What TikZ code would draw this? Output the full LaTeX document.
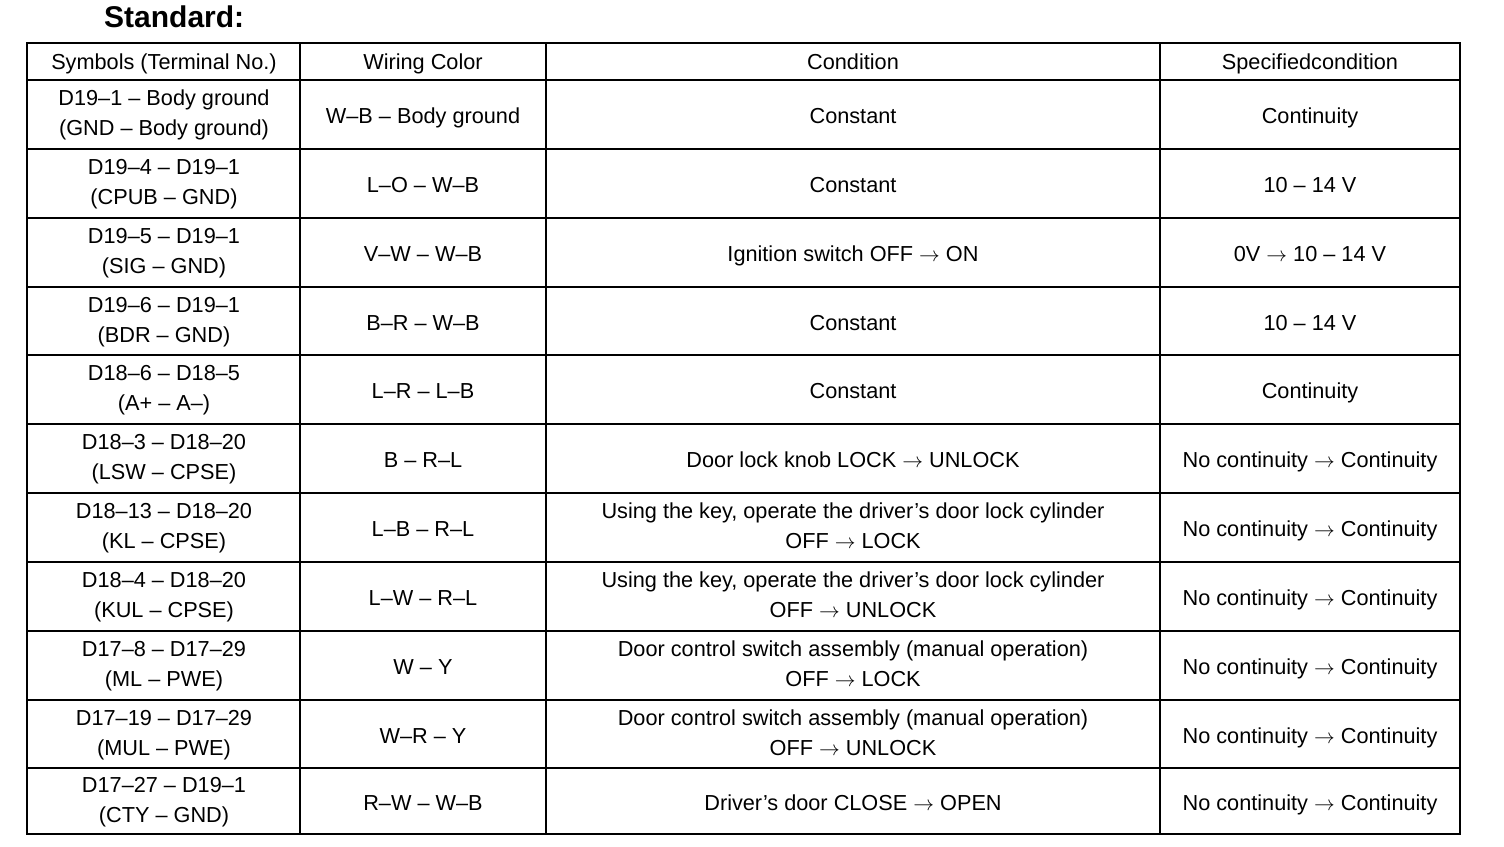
\documentclass[tikz,border=0pt]{standalone}
\usepackage{fontspec}
\setmainfont{Liberation Sans}

% one table row: index, y of centre, four cell texts
\newcommand{\wirerow}[6]{%
  \node[cell] (sym#1) at (164,#2) {#3};
  \node[cell] (wire#1) at (423,#2) {#4};
  \node[cell] (cond#1) at (853,#2) {#5};
  \node[cell] (spec#1) at (1310,#2) {#6};
}

\tikzset{
  cell/.style={align=center, inner sep=0pt, yshift=-3pt, font=\fontsize{21.7}{30}\selectfont,
    execute at begin node=\strut, execute at end node=\strut},
  rule/.style={line width=2.2pt},
}

\begin{document}
\begin{tikzpicture}[x=1pt,y=-1pt]

            % Page frame
            \useasboundingbox (0,0) rectangle (1504,846);

            % Title
            \node[anchor=west, inner sep=0pt, font=\fontsize{30}{34}\selectfont\bfseries] (title) at (104,17) {Standard:};

            % Grid
            \coordinate (topleft) at (27,43);
            \coordinate (botright) at (1460,834);
            \draw[rule] (topleft) rectangle (botright);
            \foreach \y in {80,149,218,287,355,424,493,562,631,700,768}
              \draw[rule] (27,\y) -- (1460,\y);
            \foreach \x in {300,546,1160}
              \draw[rule] (\x,43) -- (\x,834);

            % Header
            \node[cell] (headsym) at (164,60) {Symbols (Terminal No.)};
            \node[cell] (headwire) at (423,60) {Wiring Color};
            \node[cell] (headcond) at (853,60) {Condition};
            \node[cell] (headspec) at (1310,60) {Specifiedcondition};

            % Rows
            \wirerow{1}{114.5}{D19--1 -- Body ground\\(GND -- Body ground)}{W--B -- Body ground}{Constant}{Continuity}
            \wirerow{2}{183.5}{D19--4 -- D19--1\\(CPUB -- GND)}{L--O -- W--B}{Constant}{10 -- 14 V}
            \wirerow{3}{252.5}{D19--5 -- D19--1\\(SIG -- GND)}{V--W -- W--B}{Ignition switch OFF $\rightarrow$ ON}{0V $\rightarrow$ 10 -- 14 V}
            \wirerow{4}{321}{D19--6 -- D19--1\\(BDR -- GND)}{B--R -- W--B}{Constant}{10 -- 14 V}
            \wirerow{5}{389.5}{D18--6 -- D18--5\\(A+ -- A--)}{L--R -- L--B}{Constant}{Continuity}
            \wirerow{6}{458.5}{D18--3 -- D18--20\\(LSW -- CPSE)}{B -- R--L}{Door lock knob LOCK $\rightarrow$ UNLOCK}{No continuity $\rightarrow$ Continuity}
            \wirerow{7}{527.5}{D18--13 -- D18--20\\(KL -- CPSE)}{L--B -- R--L}{Using the key, operate the driver's door lock cylinder\\OFF $\rightarrow$ LOCK}{No continuity $\rightarrow$ Continuity}
            \wirerow{8}{596.5}{D18--4 -- D18--20\\(KUL -- CPSE)}{L--W -- R--L}{Using the key, operate the driver's door lock cylinder\\OFF $\rightarrow$ UNLOCK}{No continuity $\rightarrow$ Continuity}
            \wirerow{9}{665.5}{D17--8 -- D17--29\\(ML -- PWE)}{W -- Y}{Door control switch assembly (manual operation)\\OFF $\rightarrow$ LOCK}{No continuity $\rightarrow$ Continuity}
            \wirerow{10}{734}{D17--19 -- D17--29\\(MUL -- PWE)}{W--R -- Y}{Door control switch assembly (manual operation)\\OFF $\rightarrow$ UNLOCK}{No continuity $\rightarrow$ Continuity}
            \wirerow{11}{801}{D17--27 -- D19--1\\(CTY -- GND)}{R--W -- W--B}{Driver's door CLOSE $\rightarrow$ OPEN}{No continuity $\rightarrow$ Continuity}
\end{tikzpicture}
\end{document}
